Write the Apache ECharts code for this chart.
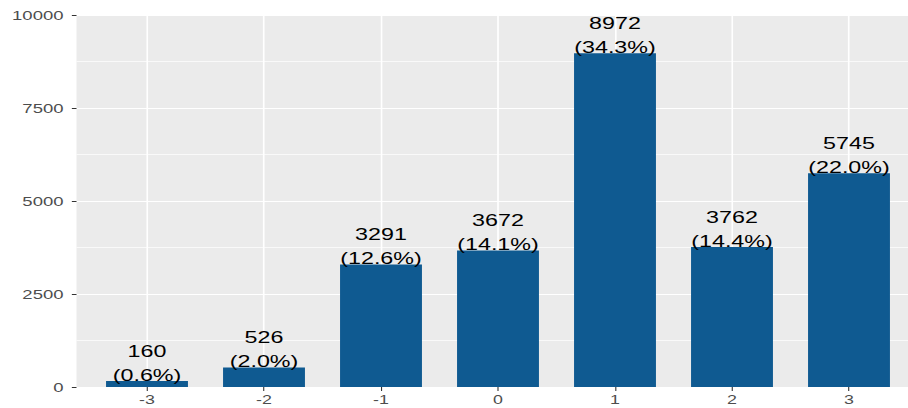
<!DOCTYPE html>
<html>
<head>
<meta charset="utf-8">
<script src="https://cdn.jsdelivr.net/npm/echarts@6/dist/echarts.min.js"></script>
<style>
html,body{margin:0;padding:0;background:#fff;overflow:hidden;}
#wrap{width:908px;height:408px;overflow:hidden;position:relative;}
#chart{height:408px;transform-origin:0 0;}
</style>
</head>
<body>
<div id="wrap"><div id="chart"></div></div>
<script>
// Data
const categories = ['-3', '-2', '-1', '0', '1', '2', '3'];
const counts = [160, 526, 3291, 3672, 8972, 3762, 5745];
const percents = ['0.6', '2.0', '12.6', '14.1', '34.3', '14.4', '22.0'];
const yMin = 0, yMax = 10000, yStep = 2500;

// The reference is horizontally stretched; draw narrower then stretch.
const S = 1.37;
const el = document.getElementById('chart');
el.style.width = (908 / S) + 'px';
el.style.transform = 'scaleX(' + S + ')';
const px = v => v / S;

const chart = echarts.init(el, null, { renderer: 'svg' });
const FONT = 'Liberation Sans, Arial, sans-serif';
const PANEL_TOP = 15, PANEL_BOTTOM = 408 - 387;

chart.setOption({
  animation: false,
  backgroundColor: '#ffffff',
  grid: [
    // panel background + y axis
    { left: px(76.5), width: px(843), top: PANEL_TOP, bottom: PANEL_BOTTOM,
      show: true, backgroundColor: '#EBEBEB', borderWidth: 0, containLabel: false },
    // bars + category axis
    { left: px(88.5), width: px(819), top: PANEL_TOP, bottom: PANEL_BOTTOM,
      show: false, containLabel: false },
    // vertical grid lines at category centres
    { left: px(147), width: px(702), top: PANEL_TOP, bottom: PANEL_BOTTOM,
      show: false, containLabel: false }
  ],
  xAxis: [
    { gridIndex: 0, type: 'value', min: 0, max: 1, show: false },
    { gridIndex: 1, type: 'category', data: categories,
      axisLine: { show: false },
      axisTick: { show: true, alignWithLabel: true, length: 4,
                  lineStyle: { color: '#333333', width: 0.8 } },
      axisLabel: { color: '#4D4D4D', fontSize: 13, fontFamily: FONT, margin: 6 },
      splitLine: { show: false }
    },
    { gridIndex: 2, type: 'value', min: -3, max: 3, interval: 1,
      axisLine: { show: false }, axisTick: { show: false }, axisLabel: { show: false },
      splitLine: { show: true, lineStyle: { color: '#FFFFFF', width: 1.2 } }
    }
  ],
  yAxis: [
    { gridIndex: 0, type: 'value', min: yMin, max: yMax, interval: yStep,
      axisLine: { show: false },
      axisTick: { show: true, length: 3.4, lineStyle: { color: '#333333', width: 1 } },
      axisLabel: { color: '#4D4D4D', fontSize: 13.5, fontFamily: FONT, margin: 9.5,
                   formatter: v => String(v) },
      splitLine: { show: true, lineStyle: { color: '#FFFFFF', width: 1.2 } },
      minorTick: { show: false, splitNumber: 2 },
      minorSplitLine: { show: true, lineStyle: { color: '#FFFFFF', width: 0.6 } }
    },
    { gridIndex: 1, type: 'value', min: yMin, max: yMax, interval: yStep, show: false,
      splitLine: { show: false } },
    { gridIndex: 2, type: 'value', min: yMin, max: yMax, interval: yStep, show: false,
      splitLine: { show: false } }
  ],
  series: [
    {
      type: 'bar',
      xAxisIndex: 1, yAxisIndex: 1,
      data: counts,
      barWidth: '70%',
      itemStyle: { color: '#0F5A91' },
      label: {
        show: true,
        position: 'top',
        distance: -6,
        color: '#000000',
        fontSize: 17,
        lineHeight: 24,
        fontFamily: FONT,
        formatter: p => counts[p.dataIndex] + '\n(' + percents[p.dataIndex] + '%)'
      }
    }
  ]
});
</script>
</body>
</html>
